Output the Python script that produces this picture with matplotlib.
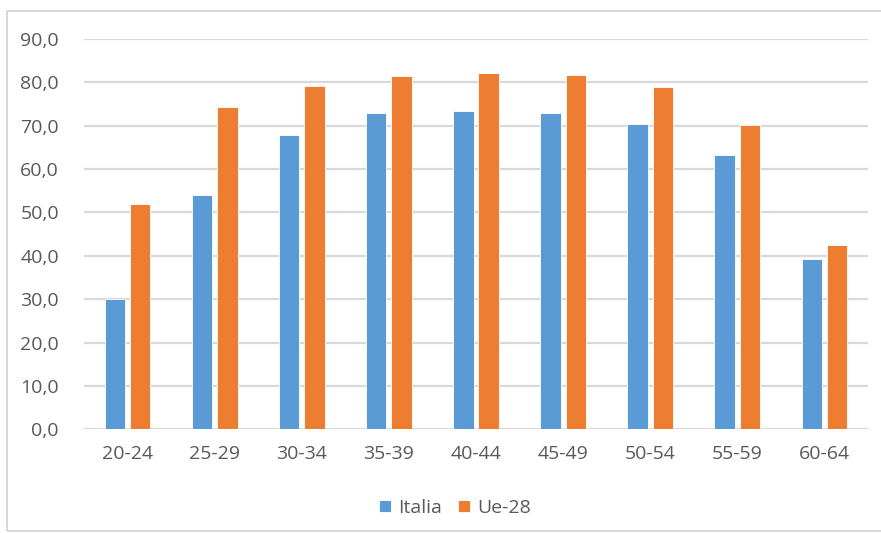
import matplotlib
matplotlib.use("Agg")
import matplotlib.pyplot as plt
from matplotlib.patches import Rectangle
import numpy as np

# Employment rate by age group
age_groups = ["20-24", "25-29", "30-34", "35-39", "40-44", "45-49", "50-54", "55-59", "60-64"]
italia = [30.1, 54.1, 67.8, 72.9, 73.5, 72.9, 70.5, 63.3, 39.3]
ue28 = [52.0, 74.3, 79.2, 81.5, 82.2, 81.7, 79.0, 70.2, 42.4]
y_ticks = [0, 10, 20, 30, 40, 50, 60, 70, 80, 90]
series_names = ["Italia", "Ue-28"]

BLUE = "#5B9BD5"
ORANGE = "#ED7D31"
TEXT = "#595959"
GRID = "#D9D9D9"

plt.rcParams["font.family"] = ["Open Sans", "DejaVu Sans"]

W, H = 881, 533
fig = plt.figure(figsize=(W / 100, H / 100), dpi=100)
fig.patch.set_facecolor("white")

# chart frame
fig.patches.append(Rectangle((7 / W, 2 / H), 1.0, 1 - 13 / H, transform=fig.transFigure,
                             fill=False, edgecolor="#D0D0D0", linewidth=1.2))

ax = fig.add_axes([84 / W, 1 - 429.3 / H, (868 - 84) / W, (429.3 - 39) / H])
x = np.arange(len(age_groups))
bw = 0.235
off = 0.145
ax.bar(x - off, italia, width=bw, color=BLUE, edgecolor="white", linewidth=0.6,
       label=series_names[0], zorder=3)
ax.bar(x + off, ue28, width=bw, color=ORANGE, edgecolor="white", linewidth=0.6,
       label=series_names[1], zorder=3)

ax.set_xlim(-0.5, len(age_groups) - 0.5)
ax.set_ylim(0, 90)
ax.set_yticks(y_ticks)
ax.set_yticklabels([f"{v:.1f}".replace(".", ",") for v in y_ticks])
ax.set_xticks(x)
ax.set_xticklabels(age_groups)
ax.tick_params(axis="both", length=0, colors=TEXT, labelsize=14)
ax.tick_params(axis="y", pad=18)
ax.tick_params(axis="x", pad=11)
ax.grid(axis="y", color=GRID, linewidth=1.6, zorder=0)
for s in ax.spines.values():
    s.set_visible(False)

leg = fig.legend(loc="center", bbox_to_anchor=(455 / W, 1 - 508 / H), ncol=2, frameon=False,
                 fontsize=14, handlelength=0.6, handleheight=0.6, handletextpad=0.4,
                 columnspacing=0.8, labelcolor=TEXT)

fig.savefig("out.png", dpi=100, facecolor="white")
